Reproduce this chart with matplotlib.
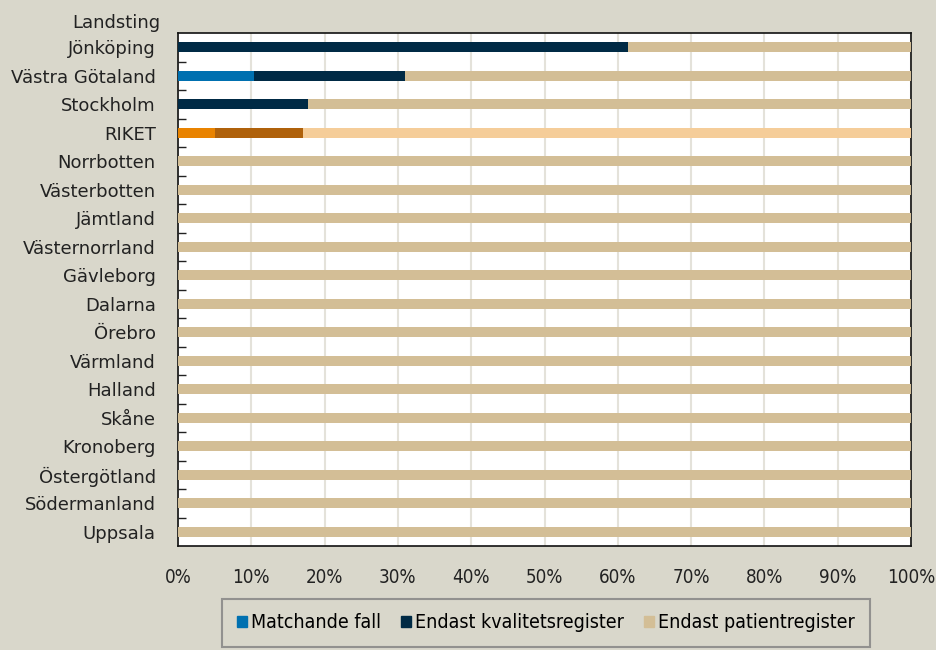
import matplotlib.pyplot as plt
from matplotlib.patches import Patch
from matplotlib.font_manager import FontProperties
import numpy as np

regions = ["Jönköping", "Västra Götaland", "Stockholm", "RIKET", "Norrbotten",
           "Västerbotten", "Jämtland", "Västernorrland", "Gävleborg", "Dalarna",
           "Örebro", "Värmland", "Halland", "Skåne", "Kronoberg", "Östergötland",
           "Södermanland", "Uppsala"]
matchande = [0.0, 10.4, 0.0, 5.0, 0, 0, 0, 0, 0, 0, 0, 0, 0, 0, 0, 0, 0, 0]
endast_kval = [61.4, 20.6, 17.7, 12.0, 0, 0, 0, 0, 0, 0, 0, 0, 0, 0, 0, 0, 0, 0]
endast_pat = [100 - a - b for a, b in zip(matchande, endast_kval)]
series_names = ["Matchande fall", "Endast kvalitetsregister", "Endast patientregister"]
ticks = [0, 10, 20, 30, 40, 50, 60, 70, 80, 90, 100]

bg = "#D9D7CB"
c_match, c_kval, c_pat = "#0070B0", "#002A45", "#D3BE96"
r_match, r_kval, r_pat = "#E98300", "#AF610B", "#F5CD99"

tick_font = FontProperties(family=["DejaVu Sans"], stretch="condensed", size=13.5)
leg_font = FontProperties(family=["DejaVu Sans"], stretch="condensed", size=14)

fig = plt.figure(figsize=(9.36, 6.5), dpi=100, facecolor=bg)
ax = fig.add_axes([178/936, 1 - 546/650, (911-178)/936, (546-33)/650])
ax.set_facecolor("white")

y = np.arange(len(regions))
is_riket = [r == "RIKET" for r in regions]
cols1 = [r_match if r else c_match for r in is_riket]
cols2 = [r_kval if r else c_kval for r in is_riket]
cols3 = [r_pat if r else c_pat for r in is_riket]
h = 0.36
ax.barh(y, matchande, height=h, color=cols1, zorder=3)
ax.barh(y, endast_kval, left=matchande, height=h, color=cols2, zorder=3)
ax.barh(y, endast_pat, left=np.add(matchande, endast_kval), height=h, color=cols3, zorder=3)

ax.set_xlim(0, 100)
ax.set_ylim(len(regions) - 0.5, -0.5)
ax.set_xticks(ticks)
ax.set_xticklabels([f"{t}%" for t in ticks], fontproperties=tick_font)
ax.tick_params(axis="x", length=0, pad=16, colors="#222222")
ax.set_yticks(y)
ax.set_yticklabels(regions, fontsize=13, color="#222222")
ax.tick_params(axis="y", length=0, pad=16)
ax.set_yticks(np.arange(len(regions) - 1) + 0.5, minor=True)
ax.tick_params(axis="y", which="minor", direction="in", length=6, width=1, color="#222222")
ax.grid(axis="x", color="#E4E2DA", linewidth=1.5, zorder=0)
for s in ax.spines.values():
    s.set_color("#111111")
    s.set_linewidth(1.2)

fig.text(160/936, 1 - 23/650, "Landsting", ha="right", va="center", fontsize=13, color="#222222")

handles = [Patch(color=c, label=n) for c, n in zip([c_match, c_kval, c_pat], series_names)]
leg = fig.legend(handles=handles, loc="center", bbox_to_anchor=(546/936, 1 - 623/650), ncol=3,
                 frameon=True, fancybox=False, handlelength=0.5, handleheight=0.5,
                 handletextpad=0.25, columnspacing=1.0, borderpad=0.75,
                 prop=leg_font)
leg.get_frame().set_facecolor(bg)
leg.get_frame().set_edgecolor("#808080")
leg.get_frame().set_linewidth(1.5)

fig.savefig("out.png", dpi=100, facecolor=bg)
